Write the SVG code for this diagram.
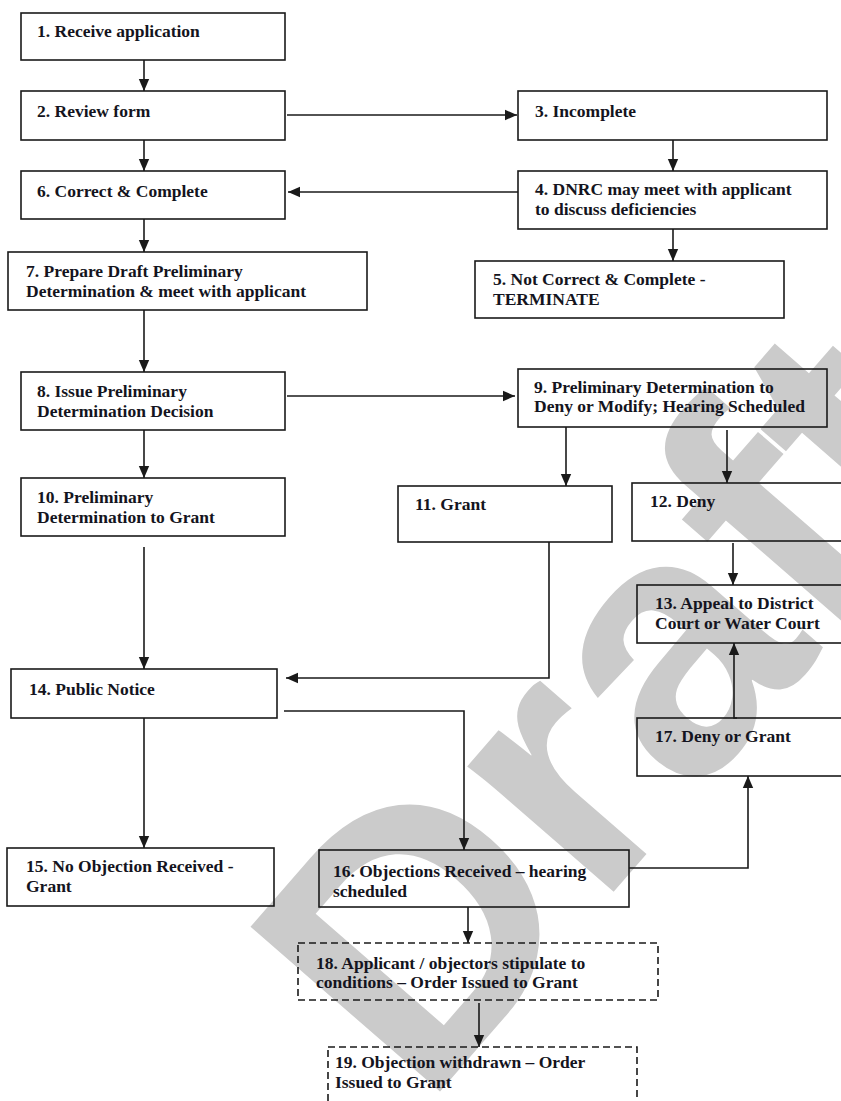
<svg xmlns="http://www.w3.org/2000/svg" width="841" height="1101" viewBox="0 0 841 1101">
<style>
.box{fill:none;stroke:#1a1a1a;stroke-width:1.6}
.dash{fill:none;stroke:#1a1a1a;stroke-width:1.6;stroke-dasharray:7 4}
.t{font-family:"Liberation Serif","Times New Roman",serif;font-weight:bold;font-size:17.5px;fill:#141420}
.c{fill:none;stroke:#1a1a1a;stroke-width:1.6}
.wm{font-family:"Liberation Sans",Arial,sans-serif;font-weight:bold;font-size:365px;fill:#cbcbcb}
</style>
<defs>
<marker id="ah" markerUnits="userSpaceOnUse" markerWidth="12" markerHeight="12" viewBox="0 0 12 12" refX="12" refY="6" orient="auto">
<path d="M0,0.8 L12,6 L0,11.2 Z" fill="#1a1a1a"/>
</marker>
</defs>
<rect width="841" height="1101" fill="#ffffff"/>
<text class="wm" x="424" y="1110" transform="rotate(-49 424 1110)">Draft</text>

<g id="n1"><rect class="box" x="21" y="13" width="264" height="47"/><text class="t" x="37" y="37">1.  Receive application</text></g>
<g id="n2"><rect class="box" x="21" y="91" width="264" height="49"/><text class="t" x="37" y="117">2.  Review form</text></g>
<g id="n3"><rect class="box" x="518" y="91" width="309" height="49"/><text class="t" x="535" y="117">3.  Incomplete</text></g>
<g id="n4"><rect class="box" x="518" y="171" width="309" height="58"/><text class="t" x="535" y="195">4.  DNRC may meet with applicant</text><text class="t" x="535" y="215">to discuss deficiencies</text></g>
<g id="n5"><rect class="box" x="475" y="261" width="309" height="57"/><text class="t" x="493" y="285">5.  Not Correct &amp; Complete -</text><text class="t" x="493" y="305">TERMINATE</text></g>
<g id="n6"><rect class="box" x="21" y="171" width="264" height="48"/><text class="t" x="37" y="197">6.  Correct &amp; Complete</text></g>
<g id="n7"><rect class="box" x="8" y="252" width="359" height="58"/><text class="t" x="26" y="277">7.  Prepare Draft Preliminary</text><text class="t" x="26" y="297">Determination &amp; meet with applicant</text></g>
<g id="n8"><rect class="box" x="21" y="372" width="264" height="58"/><text class="t" x="37" y="397">8.  Issue Preliminary</text><text class="t" x="37" y="417">Determination Decision</text></g>
<g id="n9"><rect class="box" x="518" y="369" width="309" height="58"/><text class="t" x="534" y="393">9.  Preliminary Determination to</text><text class="t" x="534" y="412">Deny or Modify; Hearing Scheduled</text></g>
<g id="n10"><rect class="box" x="21" y="478" width="264" height="58"/><text class="t" x="37" y="503">10.  Preliminary</text><text class="t" x="37" y="523">Determination to Grant</text></g>
<g id="n11"><rect class="box" x="398" y="486" width="214" height="56"/><text class="t" x="415" y="510">11. Grant</text></g>
<g id="n12"><rect class="box" x="632" y="483" width="220" height="58"/><text class="t" x="650" y="507">12. Deny</text></g>
<g id="n13"><rect class="box" x="637" y="585" width="215" height="58"/><text class="t" x="655" y="609">13.  Appeal to District</text><text class="t" x="655" y="629">Court or Water Court</text></g>
<g id="n14"><rect class="box" x="11" y="669" width="266" height="49"/><text class="t" x="29" y="695">14.  Public Notice</text></g>
<g id="n15"><rect class="box" x="7" y="848" width="267" height="58"/><text class="t" x="26" y="872">15.  No Objection Received -</text><text class="t" x="26" y="892">Grant</text></g>
<g id="n16"><rect class="box" x="319" y="850" width="310" height="57"/><text class="t" x="333" y="877">16.  Objections Received – hearing</text><text class="t" x="333" y="897">scheduled</text></g>
<g id="n17"><rect class="box" x="637" y="718" width="215" height="58"/><text class="t" x="655" y="742">17.  Deny or Grant</text></g>
<g id="n18"><rect class="dash" x="298" y="943" width="360" height="57"/><text class="t" x="316" y="969">18.  Applicant / objectors stipulate to</text><text class="t" x="316" y="988">conditions – Order Issued to Grant</text></g>
<g id="n19"><rect class="dash" x="328" y="1047" width="309" height="70"/><text class="t" x="335" y="1068">19. Objection withdrawn – Order</text><text class="t" x="335" y="1088">Issued to Grant</text></g>

<g id="connectors">
<path class="c" d="M144,60 V91" marker-end="url(#ah)"/>
<path class="c" d="M144,140 V171" marker-end="url(#ah)"/>
<path class="c" d="M144,219 V252" marker-end="url(#ah)"/>
<path class="c" d="M144,310 V372" marker-end="url(#ah)"/>
<path class="c" d="M144,430 V478" marker-end="url(#ah)"/>
<path class="c" d="M144,547 V669" marker-end="url(#ah)"/>
<path class="c" d="M144,718 V848" marker-end="url(#ah)"/>
<path class="c" d="M287,115 H517" marker-end="url(#ah)"/>
<path class="c" d="M673,140 V171" marker-end="url(#ah)"/>
<path class="c" d="M518,192 H288" marker-end="url(#ah)"/>
<path class="c" d="M673,229 V261" marker-end="url(#ah)"/>
<path class="c" d="M287,396 H515" marker-end="url(#ah)"/>
<path class="c" d="M566,427 V486" marker-end="url(#ah)"/>
<path class="c" d="M727,430 V483" marker-end="url(#ah)"/>
<path class="c" d="M549,542 V678 H286" marker-end="url(#ah)"/>
<path class="c" d="M733,543 V585" marker-end="url(#ah)"/>
<path class="c" d="M737,718 H734 V643" marker-end="url(#ah)"/>
<path class="c" d="M284,711 H464 V850" marker-end="url(#ah)"/>
<path class="c" d="M629,868 H748 V776" marker-end="url(#ah)"/>
<path class="c" d="M468,907 V943" marker-end="url(#ah)"/>
<path class="c" d="M479,1003 V1047" marker-end="url(#ah)"/>
</g>
</svg>
